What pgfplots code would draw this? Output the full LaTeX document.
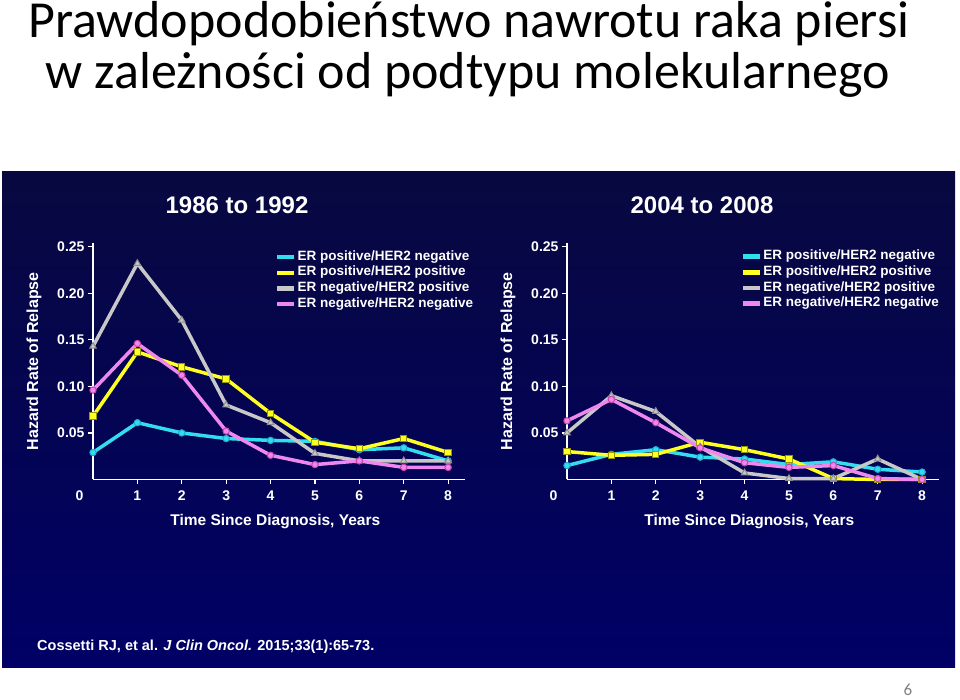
\documentclass[border=0pt]{standalone}
\usepackage{fontspec}
\setmainfont{Liberation Sans}
\newfontfamily\titlefont{Carlito}
\usepackage{pgfplots}
\pgfplotsset{compat=1.18}

\definecolor{navtop}{RGB}{8,8,64}
\definecolor{navbot}{RGB}{0,0,102}
\definecolor{ccyan}{RGB}{51,221,238}
\definecolor{ccyanD}{RGB}{30,170,210}
\definecolor{cyel}{RGB}{255,255,34}
\definecolor{cyelD}{RGB}{150,150,0}
\definecolor{cgray}{RGB}{200,200,200}
\definecolor{cgrayD}{RGB}{140,140,140}
\definecolor{cpink}{RGB}{238,136,238}
\definecolor{cpinkD}{RGB}{200,70,170}

\pgfplotsset{
  panel/.style={
    anchor=south west, scale only axis,
    width=372pt, height=236.5pt,
    xmin=0, xmax=8.38, ymin=0, ymax=0.254,
    axis x line=bottom, axis y line=left,
    axis line style={white, line width=1.6pt, -},
    tick align=outside, major tick length=5pt,
    tick style={white, line width=1.2pt},
    xtick={1,...,8}, ytick={0.05,0.10,0.15,0.20,0.25},
    extra x ticks={0}, extra x tick labels={0},
    extra x tick style={major tick length=0pt, tick label style={xshift=-13.5pt, yshift=-5pt}},
    yticklabel style={/pgf/number format/.cd, fixed, fixed zerofill, precision=2},
    xticklabel style={yshift=-3pt},
    /pgf/number format/assume math mode=true,
    tick label style={white, font=\bfseries\fontsize{14}{14}\selectfont},
    every axis y label/.style={at={(axis description cs:-0.1586,0.5)}, rotate=90, anchor=center,
      white, font=\bfseries\fontsize{16}{16}\selectfont},
    every axis x label/.style={at={(axis description cs:0.49,-0.1776)}, anchor=center,
      white, font=\bfseries\fontsize{15.5}{15.5}\selectfont},
    xlabel={Time Since Diagnosis, Years},
    ylabel={Hazard Rate of Relapse},
    clip=false,
    legend style={draw=none, fill=none, anchor=north west, text=white,
      font=\bfseries\fontsize{13.5}{13.5}\selectfont,
      nodes={inner sep=1pt, text height=10pt, text depth=3.7pt},
      row sep=0pt, column sep=0pt},
    legend cell align=left,
    legend image code/.code={\draw[#1, line width=4.5pt] (0pt,0pt) -- (17pt,0pt);},
  },
  sc/.style={ccyan, line width=3.5pt, mark=*, mark size=3.2pt, mark options={draw=ccyanD, fill=ccyan, line width=1pt}},
  sy/.style={cyel, line width=3.5pt, mark=square*, mark size=3.2pt, mark options={draw=cyelD, fill=cyel, line width=1pt}},
  sg/.style={cgray, line width=3.5pt, mark=triangle*, mark size=3.8pt, mark options={draw=cgrayD, fill=cgray, line width=1pt}},
  sp/.style={cpink, line width=3.5pt, mark=*, mark size=3.2pt, mark options={draw=cpinkD, fill=cpink, line width=1pt}},
}

\begin{document}
\begin{tikzpicture}
\path[use as bounding box] (0pt,0pt) rectangle (960pt,700pt);
\shade[top color=navtop, bottom color=navbot] (2pt,32pt) rectangle (955pt,528pt);

\node[anchor=base, text=black, font=\titlefont\fontsize{52}{52}\selectfont] at (469pt,662.5pt) {Prawdopodobieństwo nawrotu raka piersi};
\node[anchor=base, text=black, font=\titlefont\fontsize{52}{52}\selectfont] at (468pt,611pt) {w zależności od podtypu molekularnego};

\node[white, font=\bfseries\fontsize{24}{24}\selectfont] at (237pt,495pt) {1986 to 1992};
\node[white, font=\bfseries\fontsize{24}{24}\selectfont] at (702pt,495pt) {2004 to 2008};

\begin{axis}[panel, at={(93pt,220.5pt)}, legend style={at={(rel axis cs:0.481,0.983)}}]
\addplot[sc] coordinates {(0,0.029)(1,0.061)(2,0.050)(3,0.044)(4,0.042)(5,0.041)(6,0.032)(7,0.034)(8,0.020)};
\addplot[sy] coordinates {(0,0.068)(1,0.137)(2,0.121)(3,0.108)(4,0.071)(5,0.040)(6,0.033)(7,0.044)(8,0.029)};
\addplot[sg] coordinates {(0,0.143)(1,0.232)(2,0.171)(3,0.080)(4,0.061)(5,0.028)(6,0.020)(7,0.020)(8,0.020)};
\addplot[sp] coordinates {(0,0.096)(1,0.146)(2,0.112)(3,0.052)(4,0.026)(5,0.016)(6,0.020)(7,0.013)(8,0.013)};
\legend{ER positive/HER2 negative, ER positive/HER2 positive, ER negative/HER2 positive, ER negative/HER2 negative}
\end{axis}

\begin{axis}[panel, at={(567pt,220.5pt)}, legend style={at={(rel axis cs:0.4585,0.985)}}]
\addplot[sc] coordinates {(0,0.015)(1,0.027)(2,0.032)(3,0.024)(4,0.022)(5,0.016)(6,0.019)(7,0.011)(8,0.008)};
\addplot[sy] coordinates {(0,0.030)(1,0.026)(2,0.027)(3,0.040)(4,0.032)(5,0.022)(6,0.001)(7,0)(8,0)};
\addplot[sg] coordinates {(0,0.050)(1,0.090)(2,0.073)(3,0.035)(4,0.007)(5,0.001)(6,0.001)(7,0.022)(8,0)};
\addplot[sp] coordinates {(0,0.063)(1,0.086)(2,0.061)(3,0.034)(4,0.018)(5,0.013)(6,0.015)(7,0.001)(8,0)};
\legend{ER positive/HER2 negative, ER positive/HER2 positive, ER negative/HER2 positive, ER negative/HER2 negative}
\end{axis}

\node[anchor=west, white, font=\bfseries\fontsize{14.5}{14.5}\selectfont, inner sep=0pt] at (37pt,53pt)
  {Cossetti RJ, et al. \textit{J Clin Oncol.} 2015;33(1):65-73.};

\node[text=gray, inner sep=0pt, font=\titlefont\fontsize{17}{17}\selectfont] at (908pt,10pt) {6};
\end{tikzpicture}
\end{document}
